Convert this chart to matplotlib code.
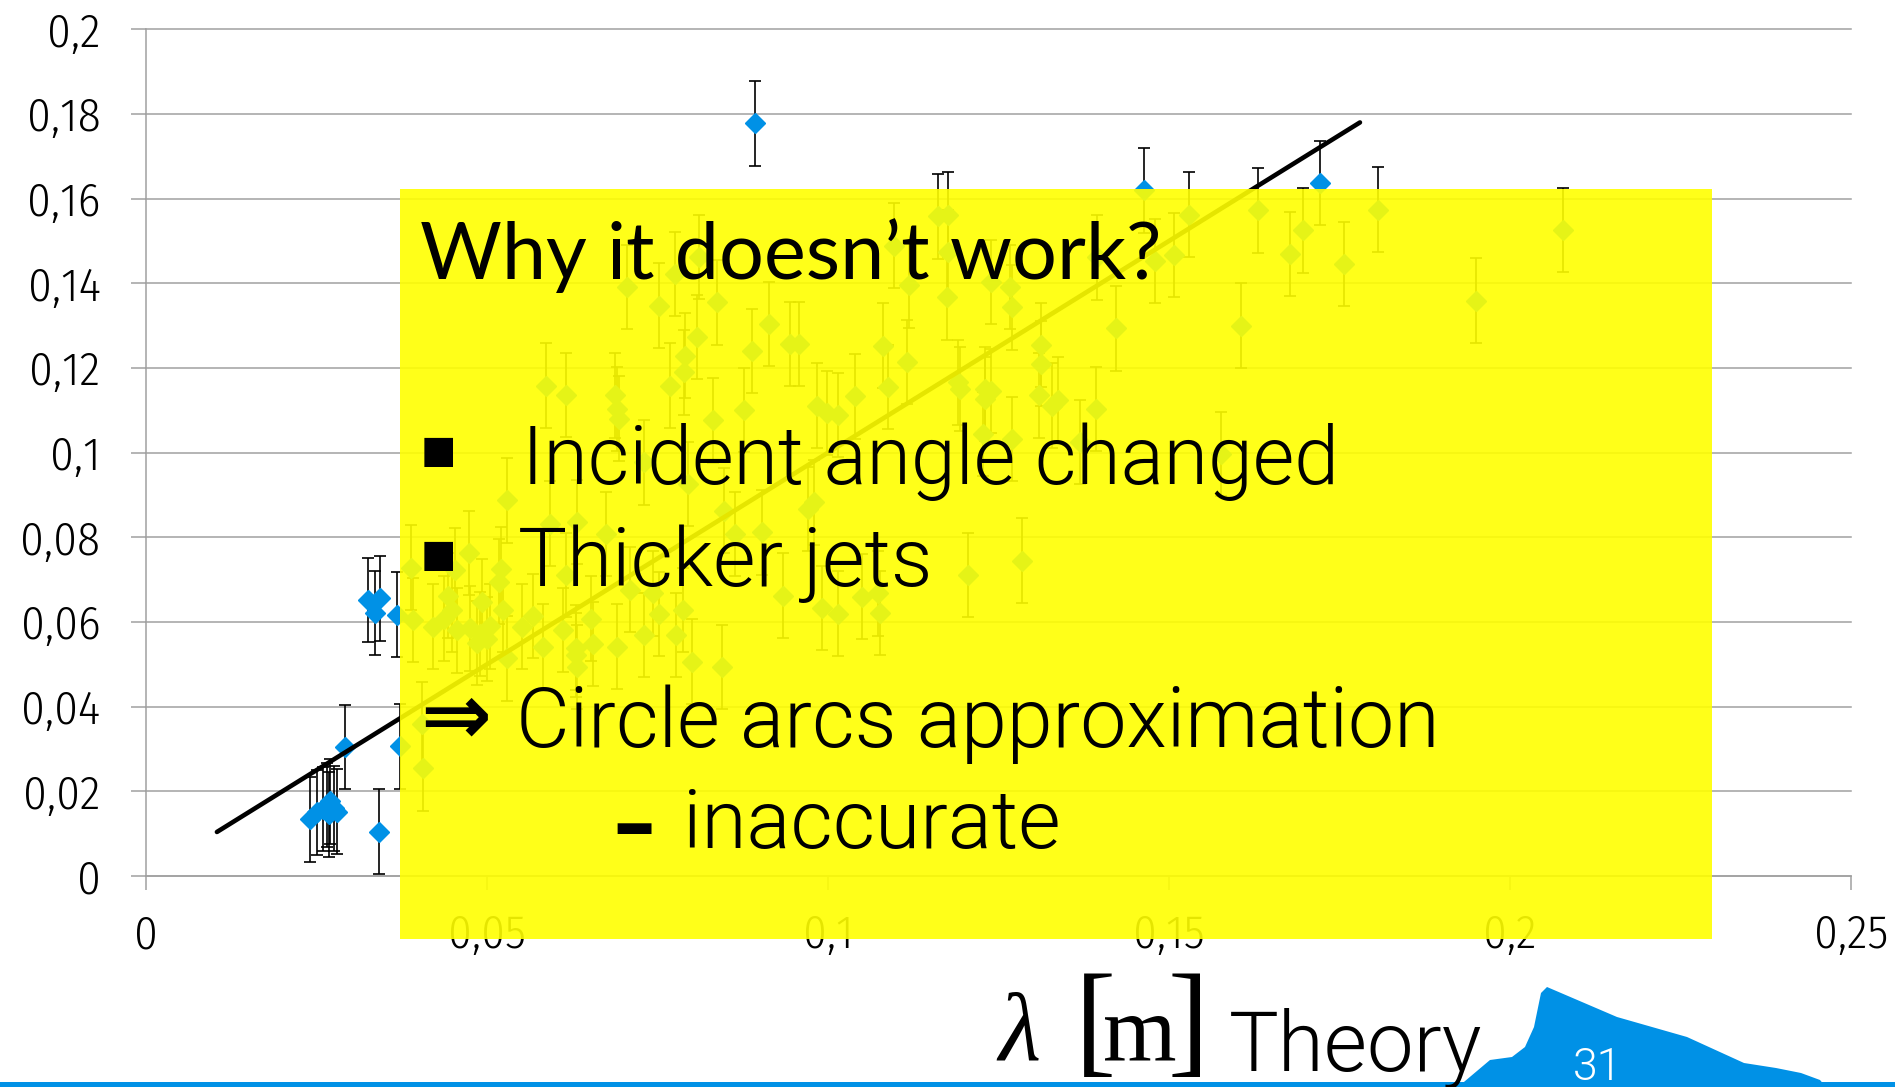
import matplotlib
matplotlib.use('Agg')
import matplotlib.pyplot as plt
import matplotlib.font_manager as fm
from matplotlib.patches import Rectangle, Polygon

W, H = 1895, 1087

# wavelength: theory (x) vs measured (y), metres
lam_theory = [
    0.0240, 0.0250, 0.0259, 0.0265, 0.0268, 0.0270, 0.0275, 0.0280, 0.0292, 0.0325,
    0.0336, 0.0341, 0.0343, 0.0368, 0.0373, 0.0388, 0.0391, 0.0405, 0.0406, 0.0421,
    0.0437, 0.0443, 0.0448, 0.0453, 0.0456, 0.0473, 0.0475, 0.0485, 0.0490, 0.0493,
    0.0500, 0.0505, 0.0518, 0.0520, 0.0524, 0.0530, 0.0530, 0.0551, 0.0567, 0.0582,
    0.0587, 0.0592, 0.0611, 0.0616, 0.0616, 0.0630, 0.0630, 0.0632, 0.0632, 0.0653,
    0.0655, 0.0675, 0.0688, 0.0690, 0.0690, 0.0693, 0.0706, 0.0709, 0.0730, 0.0730,
    0.0743, 0.0752, 0.0752, 0.0769, 0.0775, 0.0777, 0.0788, 0.0789, 0.0791, 0.0795,
    0.0801, 0.0808, 0.0811, 0.0832, 0.0837, 0.0845, 0.0848, 0.0863, 0.0877, 0.0889,
    0.0893, 0.0903, 0.0913, 0.0934, 0.0945, 0.0957, 0.0971, 0.0980, 0.0984, 0.0991,
    0.0999, 0.1014, 0.1014, 0.1040, 0.1050, 0.1073, 0.1076, 0.1081, 0.1088, 0.1097,
    0.1116, 0.1119, 0.1161, 0.1175, 0.1176, 0.1176, 0.1190, 0.1193, 0.1206, 0.1227,
    0.1230, 0.1230, 0.1239, 0.1239, 0.1267, 0.1270, 0.1270, 0.1284, 0.1309, 0.1313,
    0.1313, 0.1329, 0.1337, 0.1369, 0.1393, 0.1394, 0.1422, 0.1463, 0.1480, 0.1508,
    0.1530, 0.1576, 0.1605, 0.1630, 0.1678, 0.1696, 0.1722, 0.1757, 0.1807, 0.1950,
    0.2078,
]
lam_measured = [
    0.0134, 0.0150, 0.0158, 0.0168, 0.0146, 0.0176, 0.0160, 0.0152, 0.0305, 0.0652,
    0.0621, 0.0105, 0.0656, 0.0617, 0.0306, 0.0728, 0.0605, 0.0358, 0.0254, 0.0589,
    0.0608, 0.0662, 0.0628, 0.0723, 0.0580, 0.0763, 0.0585, 0.0550, 0.0572, 0.0648,
    0.0560, 0.0590, 0.0695, 0.0725, 0.0628, 0.0887, 0.0514, 0.0589, 0.0614, 0.0542,
    0.1158, 0.0832, 0.0581, 0.0711, 0.1136, 0.0539, 0.0522, 0.0494, 0.0836, 0.0608,
    0.0548, 0.0808, 0.1135, 0.0542, 0.1103, 0.1080, 0.1391, 0.0676, 0.0569, 0.0977,
    0.0668, 0.0619, 0.1347, 0.1158, 0.1422, 0.0569, 0.0628, 0.1190, 0.1229, 0.0926,
    0.0506, 0.1273, 0.1462, 0.1076, 0.1355, 0.0494, 0.0863, 0.0808, 0.1101, 0.1240,
    0.1778, 0.0812, 0.1304, 0.0662, 0.1257, 0.1257, 0.0867, 0.0883, 0.1111, 0.0633,
    0.1094, 0.0620, 0.1089, 0.1133, 0.0660, 0.0668, 0.0621, 0.1253, 0.1155, 0.1489,
    0.1214, 0.1395, 0.1558, 0.1367, 0.1473, 0.1562, 0.1166, 0.1150, 0.0711, 0.1044,
    0.1127, 0.1150, 0.1146, 0.1403, 0.1391, 0.1032, 0.1343, 0.0745, 0.1135, 0.1210,
    0.1254, 0.1111, 0.1125, 0.1025, 0.1103, 0.1461, 0.1294, 0.1620, 0.1453, 0.1467,
    0.1562, 0.0997, 0.1300, 0.1572, 0.1469, 0.1525, 0.1637, 0.1446, 0.1574, 0.1359,
    0.1526,
]
meas_err = 0.01

# y = x reference line
trend_x = [0.0104, 0.178]
trend_y = [0.0104, 0.178]

x_ticks = [0, 0.05, 0.1, 0.15, 0.2, 0.25]
x_labels = ['0', '0,05', '0,1', '0,15', '0,2', '0,25']
y_ticks = [0, 0.02, 0.04, 0.06, 0.08, 0.1, 0.12, 0.14, 0.16, 0.18, 0.2]
y_labels = ['0', '0,02', '0,04', '0,06', '0,08', '0,1', '0,12', '0,14', '0,16', '0,18', '0,2']

BLUE = '#0091E6'
GRID = '#a0a0a0'


def pick(family, weight, stretch='normal'):
    for f in fm.fontManager.ttflist:
        w = f.weight if isinstance(f.weight, int) else fm.weight_dict.get(f.weight, 400)
        if f.name == family and f.style == 'normal' and w == weight and f.stretch == stretch:
            return f.fname
    return None


def font(path, size, fallback='DejaVu Sans'):
    if path:
        return fm.FontProperties(fname=path, size=size)
    return fm.FontProperties(family=fallback, size=size)


body_file = pick('Roboto', 300) or pick('Lato', 300)
tick_file = pick('Fira Sans Condensed', 300, 'condensed') or pick('Lato', 300)
title_file = pick('Lato', 400)


def px(x, y):
    return x / W, 1 - y / H


fig = plt.figure(figsize=(W / 100, H / 100), dpi=100)
ax = fig.add_axes([146 / W, 1 - 876 / H, (1851 - 146) / W, (876 - 29.3) / H])

ax.errorbar(lam_theory, lam_measured, yerr=meas_err, fmt='D', color=BLUE,
            markersize=10, ecolor='black', elinewidth=1.2, capsize=4.3, capthick=1.2,
            zorder=2)
ax.plot(trend_x, trend_y, color='black', lw=3.3, solid_capstyle='round', zorder=3)

ax.set_xlim(0, 0.25)
ax.set_ylim(0, 0.2)
ax.set_xticks(x_ticks)
ax.set_xticklabels(x_labels)
ax.set_yticks(y_ticks)
ax.set_yticklabels(y_labels)
ax.yaxis.grid(True, color=GRID, lw=1.1)
for gl in ax.get_ygridlines():
    gl.set_clip_on(False)
for side in ('top', 'right'):
    ax.spines[side].set_visible(False)
for side in ('left', 'bottom'):
    ax.spines[side].set_color(GRID)
    ax.spines[side].set_linewidth(1.1)
ax.tick_params(axis='y', direction='out', length=10.8, width=1.1, color=GRID, pad=22)
ax.tick_params(axis='x', direction='out', length=10, width=1.1, color=GRID, pad=17)
tick_fp = font(tick_file, 34)
for lab in ax.get_xticklabels() + ax.get_yticklabels():
    lab.set_fontproperties(tick_fp)
ax.set_facecolor('none')

# translucent note box over the plot
fig.add_artist(Rectangle(px(400, 939), (1712 - 400) / W, (939 - 189) / H,
                         transform=fig.transFigure, facecolor='#FFFF00', alpha=0.9,
                         edgecolor='none', zorder=1))

fig.text(*px(420, 279), 'Why it doesn\u2019t work?', fontproperties=font(title_file, 57),
         va='baseline', zorder=3)
sq = fm.FontProperties(family='DejaVu Sans', size=27)
fig.text(*px(438, 452), '\u25a0', fontproperties=sq, ha='center', va='center', zorder=3)
fig.text(*px(438, 556), '\u25a0', fontproperties=sq, ha='center', va='center', zorder=3)
fig.text(*px(522, 484), 'Incident angle changed', fontproperties=font(body_file, 58),
         va='baseline', zorder=3)
fig.text(*px(518, 586), 'Thicker jets', fontproperties=font(body_file, 59),
         va='baseline', zorder=3)
fig.text(*px(456, 720), '\u21d2', fontproperties=fm.FontProperties(family='DejaVu Sans', weight='bold', size=61),
         ha='center', va='center', zorder=3)
fig.text(*px(516, 747), 'Circle arcs approximation', fontproperties=font(body_file, 59.5),
         va='baseline', zorder=3)
fig.text(*px(634, 828), '\u2013', fontproperties=fm.FontProperties(family='DejaVu Sans', weight='bold', size=62),
         ha='center', va='center', zorder=3)
fig.text(*px(683, 848), 'inaccurate', fontproperties=font(body_file, 59),
         va='baseline', zorder=3)

# axis title
serif = 'Liberation Serif'
fig.text(*px(998, 1060), '\u03bb', fontproperties=fm.FontProperties(family=serif, style='italic', size=70),
         va='baseline', zorder=3)
fig.text(*px(1095, 1030), '[', fontproperties=fm.FontProperties(family=serif, size=89),
         ha='center', va='center', zorder=3)
fig.text(*px(1140, 1060), 'm', fontproperties=fm.FontProperties(family=serif, size=68),
         ha='center', va='baseline', zorder=3)
fig.text(*px(1188, 1030), ']', fontproperties=fm.FontProperties(family=serif, size=89),
         ha='center', va='center', zorder=3)
fig.text(*px(1229, 1071), 'Theory', fontproperties=font(body_file, 60), va='baseline', zorder=4)

# footer: mountain logo, rule and page number
mountain = [(1458, 1087), (1490, 1060), (1512, 1057), (1525, 1047), (1534, 1027),
            (1541, 993), (1547, 987), (1617, 1017), (1687, 1037), (1744, 1063),
            (1776, 1068), (1801, 1073), (1820, 1080), (1826, 1087)]
fig.add_artist(Polygon([px(x, y) for x, y in mountain], closed=True, transform=fig.transFigure,
                       facecolor=BLUE, edgecolor='none', zorder=2))
fig.add_artist(Rectangle(px(0, 1087), 1, 5 / H, transform=fig.transFigure,
                         facecolor=BLUE, edgecolor='none', zorder=2))
fig.text(*px(1598, 1080), '31', fontproperties=font(body_file, 32), color='white',
         ha='center', va='baseline', zorder=3)

fig.savefig('out.png', dpi=100)
